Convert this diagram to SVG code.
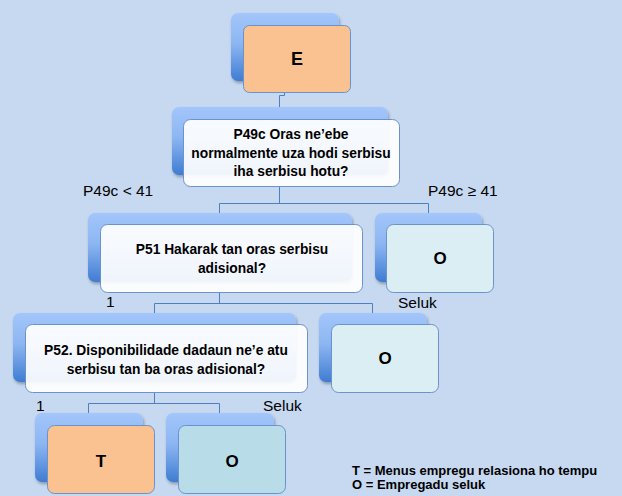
<svg xmlns="http://www.w3.org/2000/svg" width="622" height="496" viewBox="0 0 622 496">
<defs>
<linearGradient id="bg" x1="0" y1="0" x2="0" y2="1">
<stop offset="0" stop-color="#a3c6fb"/>
<stop offset="0.45" stop-color="#8cb6f2"/>
<stop offset="1" stop-color="#3f7cd2"/>
</linearGradient>
<filter id="sh" x="-10%" y="-10%" width="125%" height="130%">
<feGaussianBlur in="SourceAlpha" stdDeviation="1.5"/>
<feOffset dx="1" dy="2" result="b"/>
<feFlood flood-color="#000" flood-opacity="0.3"/>
<feComposite in2="b" operator="in"/>
<feMerge><feMergeNode/><feMergeNode in="SourceGraphic"/></feMerge>
</filter>
<style>
.back{fill:url(#bg);filter:url(#sh)}
.front{stroke:#6b92cc;stroke-width:1}
.q{fill:#ffffff;fill-opacity:0.92}
.or{fill:#fac191}
.lo{fill:#dbeef4}
.bo{fill:#b8dde8}
.t{font-family:"Liberation Sans",Arial,sans-serif;font-weight:bold;fill:#000;text-anchor:middle}
.lab{font-family:"Liberation Sans",Arial,sans-serif;font-size:15.5px;fill:#000}
.c{fill:none;stroke:#4f7fbf;stroke-width:1}
.leg{font-family:"Liberation Sans",Arial,sans-serif;font-weight:bold;font-size:13px;fill:#000}
</style>
</defs>
<rect width="622" height="496" fill="#c6d9f1"/>
<g id="connectors">
<path class="c" d="M284.5 92 V95.5 H279.5 V119"/>
<path class="c" d="M279.5 187 V203.5 M219.5 203.5 H428.5 M219.5 203.5 V213 M428.5 203.5 V213"/>
<path class="c" d="M219.5 293 V303.5 M154.5 303.5 H372.5 M154.5 303.5 V313 M372.5 303.5 V313"/>
<path class="c" d="M154.5 393 V403.5 M88.5 403.5 H219.5 M88.5 403.5 V413 M219.5 403.5 V413"/>
</g>
<g id="node-E">
<rect class="back" x="231" y="13" width="108" height="68" rx="7"/>
<rect class="front or" x="243.5" y="25.5" width="107" height="67" rx="6"/>
<text class="t" x="297" y="65" font-size="18">E</text>
</g>
<g id="node-P49c">
<rect class="back" x="172" y="107" width="216" height="68" rx="7"/>
<rect class="front q" x="183.5" y="119.5" width="216" height="67" rx="7"/>
<text class="t" x="291" y="139" font-size="13.8">P49c Oras ne’ebe</text>
<text class="t" x="291" y="157.5" font-size="13.8">normalmente uza hodi serbisu</text>
<text class="t" x="291" y="176" font-size="13.8">iha serbisu hotu?</text>
</g>
<g id="node-P51">
<rect class="back" x="88" y="213" width="264" height="69" rx="7"/>
<rect class="front q" x="100.5" y="224.5" width="262" height="68" rx="7"/>
<text class="t" x="232" y="254" font-size="13.8">P51 Hakarak tan oras serbisu</text>
<text class="t" x="232" y="273" font-size="13.8">adisional?</text>
</g>
<g id="node-O1">
<rect class="back" x="375" y="213" width="107" height="69" rx="7"/>
<rect class="front lo" x="386.5" y="224.5" width="107" height="68" rx="7"/>
<text class="t" x="440" y="264" font-size="17">O</text>
</g>
<g id="node-P52">
<rect class="back" x="13" y="313" width="283" height="69" rx="7"/>
<rect class="front q" x="25.5" y="324.5" width="282" height="68" rx="7"/>
<text class="t" x="166" y="355" font-size="13.8">P52. Disponibilidade dadaun ne’e atu</text>
<text class="t" x="166" y="373.5" font-size="13.8">serbisu tan ba oras adisional?</text>
</g>
<g id="node-O2">
<rect class="back" x="319" y="313" width="108" height="69" rx="7"/>
<rect class="front lo" x="331.5" y="324.5" width="107" height="68" rx="7"/>
<text class="t" x="385" y="364" font-size="17">O</text>
</g>
<g id="node-T">
<rect class="back" x="35" y="413" width="108" height="69" rx="7"/>
<rect class="front or" x="47.5" y="425.5" width="107" height="68" rx="7"/>
<text class="t" x="101" y="467" font-size="17">T</text>
</g>
<g id="node-O3">
<rect class="back" x="166" y="413" width="108" height="69" rx="7"/>
<rect class="front bo" x="178.5" y="425.5" width="107" height="68" rx="7"/>
<text class="t" x="232" y="467" font-size="17">O</text>
</g>
<g id="labels">
<text class="lab" x="83" y="196">P49c &lt; 41</text>
<text class="lab" x="428" y="196">P49c ≥ 41</text>
<text class="lab" x="106" y="307">1</text>
<text class="lab" x="398" y="308">Seluk</text>
<text class="lab" x="36" y="411">1</text>
<text class="lab" x="263" y="411">Seluk</text>
</g>
<g id="legend">
<text class="leg" x="352" y="475">T = Menus empregu relasiona ho tempu</text>
<text class="leg" x="352" y="489">O = Empregadu seluk</text>
</g>
</svg>
